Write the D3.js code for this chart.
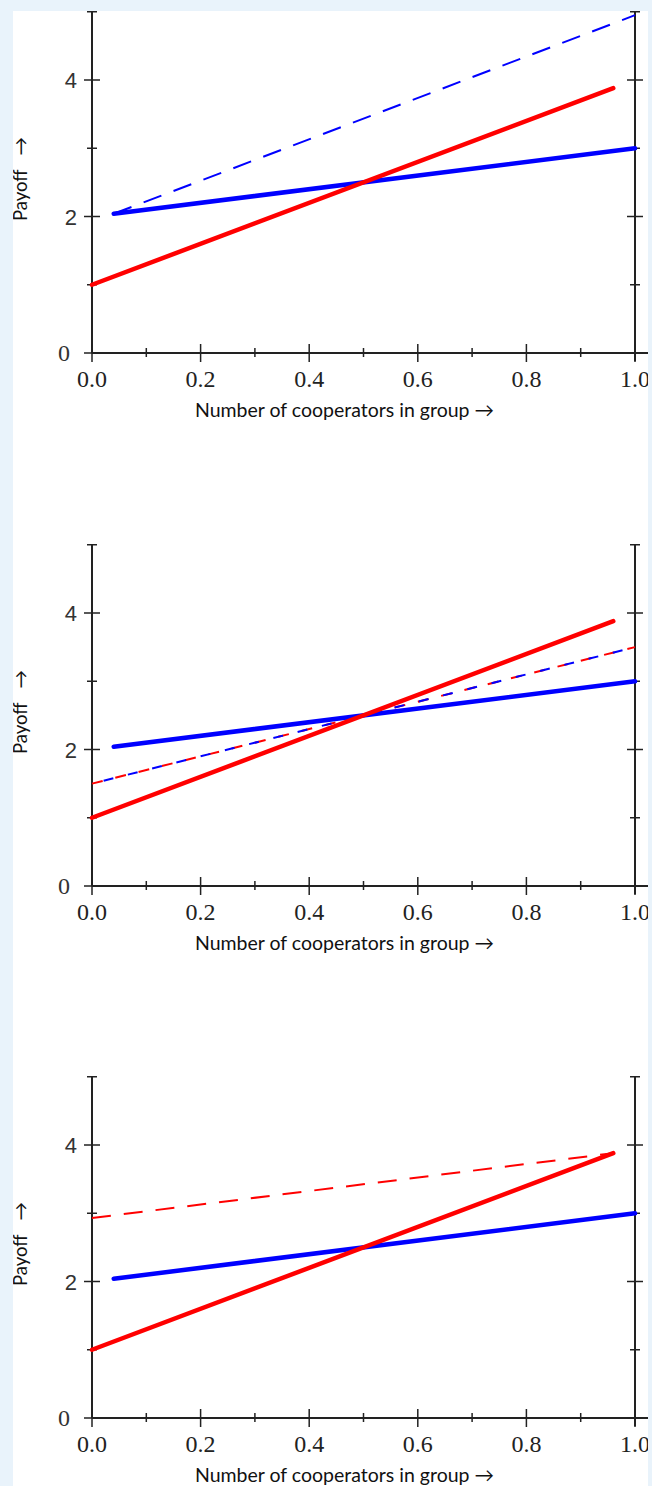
<!DOCTYPE html>
<html>
<head>
<meta charset="utf-8">
<script src="https://cdn.jsdelivr.net/npm/d3@7"></script>
<style>
  html, body { margin: 0; padding: 0; background: #e9f3fb; }
  svg { display: block; }
</style>
</head>
<body>
<svg id="chart"></svg>
<script>
/* values */
const xMajorTicks = [0, 0.2, 0.4, 0.6, 0.8, 1.0];
const xMinorTicks = [0.1, 0.3, 0.5, 0.7, 0.9];
const xTickLabels = ["0.0", "0.2", "0.4", "0.6", "0.8", "1.0"];
const yMajorTicks = [0, 2, 4];
const yMinorTicks = [1, 3, 5];
const yTickLabels = ["0", "2", "4"];

const blueSolid  = [[0.04, 2.04], [1.0, 3.0]];
const redSolid   = [[0.0, 1.0], [0.96, 3.88]];
const blueDashed = [[0.04, 2.04], [1.0, 4.95]];   // panel 1
const mixDashed  = [[0.0, 1.5], [1.0, 3.5]];      // panel 2 (red + blue)
const redDashed  = [[0.0, 2.93], [0.96, 3.88]];   // panel 3

const xTitle = "Number of cooperators in group \u2192";
const yTitle = "Payoff\u2003\u2192";

/* layout */
const W = 652, H = 1486;
const svg = d3.select("#chart").attr("width", W).attr("height", H);

svg.append("clipPath").attr("id", "paper")
   .append("rect").attr("x", 13).attr("y", 11).attr("width", 635).attr("height", H - 11);
svg.append("rect").attr("x", 13).attr("y", 11).attr("width", 635).attr("height", H - 11)
   .attr("fill", "#fff");

const x = d3.scaleLinear().domain([0, 1]).range([92, 635]);
const line = d3.line().x(d => x(d[0]));

const panels = [
  { top: 0,    dashed: [{ data: blueDashed, color: "#0000ff", dash: "19 13", off: 0 }] },
  { top: 533,  dashed: [{ data: mixDashed, color: "#ff0000", dash: "11 13", off: 0 },
                        { data: mixDashed, color: "#0000ff", dash: "10 15", off: -12 }] },
  { top: 1065, dashed: [{ data: redDashed, color: "#ff0000", dash: "19 13", off: 0 }] }
];

panels.forEach(p => {
  const y = d3.scaleLinear().domain([0, 5]).range([353 + p.top, 11.75 + p.top]);
  const g = svg.append("g").attr("clip-path", "url(#paper)");
  const ax = "#222";

  /* left + right axis lines, x axis line */
  g.append("line").attr("x1", x(0)).attr("x2", x(0)).attr("y1", y(5)).attr("y2", y(0))
   .attr("stroke", ax).attr("stroke-width", 2);
  g.append("line").attr("x1", x(1)).attr("x2", x(1)).attr("y1", y(5)).attr("y2", y(0) + 8)
   .attr("stroke", ax).attr("stroke-width", 2);
  g.append("line").attr("x1", x(0)).attr("x2", 648).attr("y1", y(0)).attr("y2", y(0))
   .attr("stroke", ax).attr("stroke-width", 2);

  /* y ticks on both vertical axes */
  [x(0), x(1)].forEach(xx => {
    g.selectAll(null).data(yMajorTicks).enter().append("line")
      .attr("x1", xx - 8).attr("x2", xx + 8).attr("y1", d => y(d)).attr("y2", d => y(d))
      .attr("stroke", ax).attr("stroke-width", 1.5);
    g.selectAll(null).data(yMinorTicks).enter().append("line")
      .attr("x1", xx - 5).attr("x2", xx + 5).attr("y1", d => y(d)).attr("y2", d => y(d))
      .attr("stroke", ax).attr("stroke-width", 1.5);
  });

  /* x ticks */
  g.selectAll(null).data(xMajorTicks).enter().append("line")
    .attr("x1", d => x(d)).attr("x2", d => x(d)).attr("y1", y(0) - 9).attr("y2", y(0) + 9)
    .attr("stroke", ax).attr("stroke-width", 1.5);
  g.selectAll(null).data(xMinorTicks).enter().append("line")
    .attr("x1", d => x(d)).attr("x2", d => x(d)).attr("y1", y(0) - 5).attr("y2", y(0) + 4)
    .attr("stroke", ax).attr("stroke-width", 1.5);

  /* tick labels */
  g.selectAll(null).data(xMajorTicks).enter().append("text")
    .attr("x", d => x(d)).attr("y", y(0) + 34)
    .attr("text-anchor", "middle")
    .attr("font-family", "'Liberation Serif', 'DejaVu Serif', serif").attr("font-size", 24)
    .attr("fill", "#222")
    .text((d, i) => xTickLabels[i]);
  g.selectAll(null).data(yMajorTicks).enter().append("text")
    .attr("x", d => d === 0 ? 70 : 77).attr("y", d => y(d) + 8)
    .attr("text-anchor", "end")
    .attr("font-family", d => d === 0 ? "'Liberation Serif', serif" : "'Liberation Sans', Arial, sans-serif")
    .attr("font-size", d => d === 0 ? 24 : 22)
    .attr("fill", "#333")
    .text((d, i) => yTickLabels[i]);

  /* axis titles */
  g.append("text")
    .attr("x", x(0.465)).attr("y", y(0) + 64)
    .attr("text-anchor", "middle")
    .attr("font-family", "Lato, 'Open Sans', sans-serif").attr("font-size", 19.5)
    .attr("fill", "#111")
    .text(xTitle);
  g.append("text")
    .attr("transform", `translate(27,${y(2.55)}) rotate(-90)`)
    .attr("text-anchor", "middle")
    .attr("font-family", "Lato, 'Open Sans', sans-serif").attr("font-size", 18.5)
    .attr("fill", "#111")
    .text(yTitle);

  line.y(d => y(d[1]));

  /* dashed lines */
  p.dashed.forEach(s => {
    g.append("path").attr("d", line(s.data))
      .attr("fill", "none").attr("stroke", s.color).attr("stroke-width", 2)
      .attr("stroke-dasharray", s.dash).attr("stroke-dashoffset", s.off);
  });

  /* solid lines */
  g.append("path").attr("d", line(blueSolid))
    .attr("fill", "none").attr("stroke", "#0000ff").attr("stroke-width", 4.5)
    .attr("stroke-linecap", "round");
  g.append("path").attr("d", line(redSolid))
    .attr("fill", "none").attr("stroke", "#ff0000").attr("stroke-width", 4.5)
    .attr("stroke-linecap", "round");
});
</script>
</body>
</html>
